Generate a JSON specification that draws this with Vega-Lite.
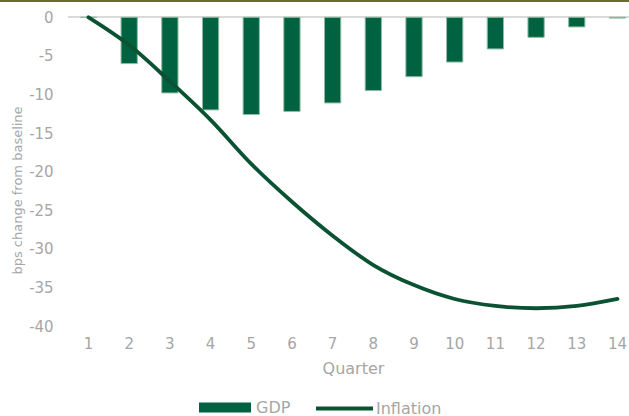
{
  "$schema": "https://vega.github.io/schema/vega-lite/v6.json",
  "width": 629,
  "height": 326,
  "autosize": {"type": "none"},
  "padding": {"left": 0, "top": 0, "right": 0, "bottom": 90},
  "background": "#ffffff",
  "config": {
    "view": {"stroke": null},
    "font": "DejaVu Sans"
  },
  "data": {
    "values": [
      {"quarter": "1", "gdp": 0, "inflation": 0},
      {"quarter": "2", "gdp": -6.0, "inflation": -3.6},
      {"quarter": "3", "gdp": -9.8, "inflation": -8.3},
      {"quarter": "4", "gdp": -12.0, "inflation": -13.3},
      {"quarter": "5", "gdp": -12.6, "inflation": -19.0},
      {"quarter": "6", "gdp": -12.2, "inflation": -23.9},
      {"quarter": "7", "gdp": -11.1, "inflation": -28.3},
      {"quarter": "8", "gdp": -9.5, "inflation": -32.1},
      {"quarter": "9", "gdp": -7.7, "inflation": -34.7},
      {"quarter": "10", "gdp": -5.8, "inflation": -36.5},
      {"quarter": "11", "gdp": -4.1, "inflation": -37.4},
      {"quarter": "12", "gdp": -2.6, "inflation": -37.7},
      {"quarter": "13", "gdp": -1.25, "inflation": -37.4},
      {"quarter": "14", "gdp": -0.1, "inflation": -36.5}
    ]
  },
  "layer": [
    {
      "mark": {"type": "rule", "color": "#d9d9d9", "strokeWidth": 1.5},
      "encoding": {
        "x": {"datum": "1", "type": "ordinal", "bandPosition": -0.75},
        "x2": {"datum": "14", "bandPosition": 1.75},
        "y": {"datum": 0, "type": "quantitative"}
      }
    },
    {
      "mark": {"type": "bar", "stroke": "#8fbca6", "strokeWidth": 1},
      "encoding": {
        "x": {
          "field": "quarter",
          "type": "ordinal",
          "scale": {
            "domain": ["1", "2", "3", "4", "5", "6", "7", "8", "9", "10", "11", "12", "13", "14"],
            "range": [68.15, 637.8],
            "paddingInner": 0.6,
            "paddingOuter": 0.3
          },
          "axis": {
            "title": "Quarter",
            "bandPosition": 0.5,
            "labelAngle": 0,
            "labelAlign": "center",
            "labelFont": "DejaVu Sans",
            "labelFontSize": 15,
            "labelColor": "#a6a6a6",
            "labelPadding": 17,
            "ticks": false,
            "tickSize": 0,
            "domain": false,
            "titleFont": "DejaVu Sans",
            "titleFontSize": 16,
            "titleFontWeight": "normal",
            "titleColor": "#a6a6a6",
            "titlePadding": 9
          }
        },
        "y": {
          "field": "gdp",
          "type": "quantitative",
          "scale": {"domain": [-40, 2.24], "nice": false, "zero": false},
          "axis": {
            "title": "bps change from baseline",
            "values": [0, -5, -10, -15, -20, -25, -30, -35, -40],
            "labelExpr": "'' + datum.value",
            "offset": -68.15,
            "grid": false,
            "domain": false,
            "ticks": false,
            "tickSize": 0,
            "labelPadding": 15,
            "labelFont": "DejaVu Sans",
            "labelFontSize": 15,
            "labelColor": "#a6a6a6",
            "titleFont": "DejaVu Sans",
            "titleFontSize": 13,
            "titleFontWeight": "normal",
            "titleColor": "#a6a6a6",
            "titleAngle": 270,
            "titleAlign": "center",
            "titleBaseline": "middle",
            "titleX": -51,
            "titleY": 190
          }
        },
        "fill": {
          "datum": "GDP",
          "scale": {"range": ["#006241"]},
          "legend": {
            "title": null,
            "orient": "none",
            "legendX": 199,
            "legendY": 381.5,
            "symbolType": "M-1,-0.19H1V0.19H-1Z",
            "symbolSize": 2704,
            "symbolStrokeWidth": 0,
            "labelFont": "DejaVu Sans",
            "labelFontSize": 16,
            "labelColor": "#a6a6a6",
            "labelOffset": 5
          }
        }
      }
    },
    {
      "mark": {"type": "line", "strokeWidth": 3.8, "interpolate": "monotone", "strokeCap": "round", "strokeJoin": "round"},
      "encoding": {
        "x": {"field": "quarter", "type": "ordinal"},
        "y": {"field": "inflation", "type": "quantitative"},
        "stroke": {
          "datum": "Inflation",
          "scale": {"range": ["#0b5233"]},
          "legend": {
            "title": null,
            "orient": "none",
            "legendX": 314,
            "legendY": 378,
            "symbolType": "stroke",
            "symbolSize": 3249,
            "symbolStrokeWidth": 4,
            "labelFont": "DejaVu Sans",
            "labelFontSize": 16,
            "labelColor": "#a6a6a6",
            "labelOffset": 1
          }
        }
      }
    },
    {
      "mark": {"type": "rule", "color": "#6b6b2b", "strokeWidth": 2.2},
      "encoding": {
        "y": {"datum": 2.11, "type": "quantitative"}
      }
    }
  ]
}
